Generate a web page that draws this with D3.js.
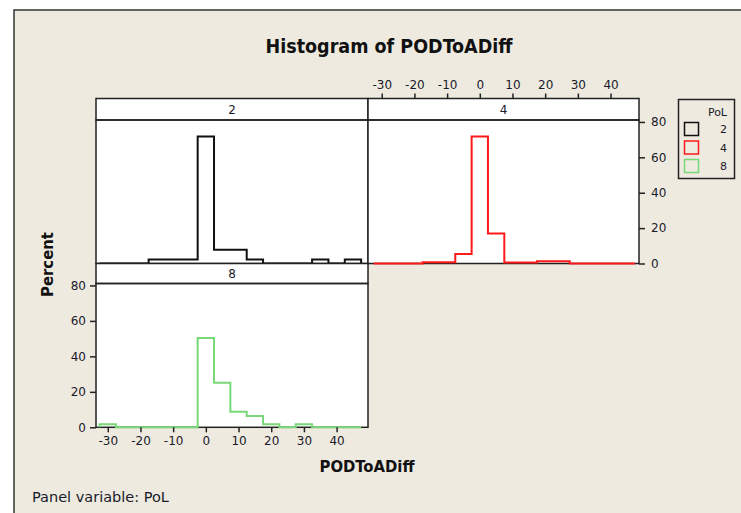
<!DOCTYPE html>
<html>
<head>
<meta charset="utf-8">
<script src="https://cdn.jsdelivr.net/npm/d3@7/dist/d3.min.js"></script>
<style>
  html, body { margin: 0; padding: 0; background: #ffffff; }
  svg { display: block; }
</style>
</head>
<body>
<script>
// ---- data ----
const binCenters = [-30, -25, -20, -15, -10, -5, 0, 5, 10, 15, 20, 25, 30, 35, 40, 45];
const binWidth = 5;
const pol2 = [0, 0, 0, 2.2, 2.2, 2.2, 71.8, 7.8, 7.8, 2.2, 0, 0, 0, 2.2, 0, 2.2];
const pol4 = [0, 0, 0, 0.7, 0.7, 5.3, 71.8, 17.0, 0.6, 0.6, 1.3, 1.3, 0, 0, 0, 0];
const pol8 = [1.7, 0, 0, 0, 0, 0, 50.4, 25.1, 8.8, 6.4, 1.7, 0, 1.7, 0, 0, 0];
const panelLabels = ["2", "4", "8"];
const seriesColors = ["#111111", "#ff1a1a", "#78d878"];
const xTicks = [-30, -20, -10, 0, 10, 20, 30, 40];
const yTicks = [0, 20, 40, 60, 80];
const titleText = "Histogram of PODToADiff";
const xLabel = "PODToADiff";
const yLabel = "Percent";
const legendTitle = "PoL";
const footText = "Panel variable: PoL";

const W = 741, H = 513;
const BG = "#eeeae0";
const FONT = "'DejaVu Sans', Verdana, sans-serif";
const FONTC = "'DejaVu Sans Condensed', 'DejaVu Sans', sans-serif";

const svg = d3.select("body").append("svg").attr("width", W).attr("height", H);
svg.append("rect").attr("width", W).attr("height", H).attr("fill", "#ffffff");
// outer frame
svg.append("rect").attr("x", 14).attr("y", 10).attr("width", W + 10).attr("height", H + 10)
  .attr("fill", BG).attr("stroke", "#333").attr("stroke-width", 1.5);

// layout of panels
const cols = [
  { x0: 96, x1: 368, domain: [-33.6, 49.6] },
  { x0: 368, x1: 639, domain: [-34.2, 48.7] }
];
const rows = [
  { stripTop: 98.5, stripBottom: 120, base: 263.5 },
  { stripTop: 263.5, stripBottom: 283.5, base: 427.3 }
];
const yMax = 81.1;
const panels = [
  { label: panelLabels[0], data: pol2, color: seriesColors[0], col: 0, row: 0 },
  { label: panelLabels[1], data: pol4, color: seriesColors[1], col: 1, row: 0 },
  { label: panelLabels[2], data: pol8, color: seriesColors[2], col: 0, row: 1 }
];

const xScales = cols.map(c => d3.scaleLinear().domain(c.domain).range([c.x0, c.x1]));
const yScales = rows.map(r => d3.scaleLinear().domain([0, yMax]).range([r.base, r.stripBottom]));

panels.forEach(p => {
  const c = cols[p.col], r = rows[p.row];
  const x = xScales[p.col], y = yScales[p.row];
  const g = svg.append("g");
  g.append("rect").attr("x", c.x0).attr("y", r.stripBottom)
    .attr("width", c.x1 - c.x0).attr("height", r.base - r.stripBottom)
    .attr("fill", "#ffffff");
  g.append("rect").attr("x", c.x0).attr("y", r.stripTop)
    .attr("width", c.x1 - c.x0).attr("height", r.stripBottom - r.stripTop)
    .attr("fill", "#ffffff").attr("stroke", "#222").attr("stroke-width", 1.5);
  g.append("text").attr("x", (c.x0 + c.x1) / 2).attr("y", (r.stripTop + r.stripBottom) / 2 + 4.5)
    .attr("text-anchor", "middle").attr("font-family", FONT).attr("font-size", 12)
    .attr("fill", "#1a1a2a").text(p.label);
  g.append("rect").attr("x", c.x0).attr("y", r.stripBottom)
    .attr("width", c.x1 - c.x0).attr("height", r.base - r.stripBottom)
    .attr("fill", "none").attr("stroke", "#222").attr("stroke-width", 1.5);
  // histogram outline (step path over all bins)
  const pts = [[binCenters[0] - binWidth / 2, 0]];
  binCenters.forEach((bc, i) => {
    pts.push([bc - binWidth / 2, p.data[i]]);
    pts.push([bc + binWidth / 2, p.data[i]]);
  });
  pts.push([binCenters[binCenters.length - 1] + binWidth / 2, 0]);
  const line = d3.line().x(d => x(d[0])).y(d => y(d[1]));
  g.append("path").attr("d", line(pts)).attr("fill", "none")
    .attr("stroke", p.color).attr("stroke-width", 2).attr("stroke-linejoin", "miter");
});

// axes
const styleAxis = sel => {
  sel.select(".domain").remove();
  sel.selectAll(".tick line").attr("stroke", "#222").attr("stroke-width", 1.5);
  sel.selectAll("text").attr("font-family", FONT).attr("font-size", 12).attr("fill", "#1a1a2a");
};
const fmt = d => String(d);
svg.append("g").attr("transform", `translate(0,${rows[0].stripTop})`)
  .call(d3.axisTop(xScales[1]).tickValues(xTicks).tickFormat(fmt).tickSize(5).tickPadding(5)).call(styleAxis);
svg.append("g").attr("transform", `translate(0,${rows[1].base})`)
  .call(d3.axisBottom(xScales[0]).tickValues(xTicks).tickFormat(fmt).tickSize(5).tickPadding(4)).call(styleAxis);
svg.append("g").attr("transform", `translate(${cols[0].x0},0)`)
  .call(d3.axisLeft(yScales[1]).tickValues(yTicks).tickFormat(fmt).tickSize(6).tickPadding(4)).call(styleAxis);
svg.append("g").attr("transform", `translate(${cols[1].x1},0)`)
  .call(d3.axisRight(yScales[0]).tickValues(yTicks).tickFormat(fmt).tickSize(6).tickPadding(6)).call(styleAxis);

// titles
svg.append("text").attr("x", 389).attr("y", 53).attr("text-anchor", "middle")
  .attr("font-family", FONTC).attr("font-weight", "bold").attr("font-size", 19.5)
  .attr("fill", "#111").text(titleText);
svg.append("text").attr("x", 367).attr("y", 472).attr("text-anchor", "middle")
  .attr("font-family", FONTC).attr("font-weight", "bold").attr("font-size", 16.5)
  .attr("fill", "#111").text(xLabel);
svg.append("text").attr("transform", "translate(53,264.5) rotate(-90)").attr("text-anchor", "middle")
  .attr("font-family", FONTC).attr("font-weight", "bold").attr("font-size", 16.5)
  .attr("fill", "#111").text(yLabel);
svg.append("text").attr("x", 32).attr("y", 502)
  .attr("font-family", FONT).attr("font-size", 14.5)
  .attr("fill", "#1a1a2a").text(footText);

// legend
const lg = svg.append("g");
lg.append("rect").attr("x", 678.5).attr("y", 99.5).attr("width", 56).attr("height", 79)
  .attr("fill", BG).attr("stroke", "#222").attr("stroke-width", 1.5);
lg.append("text").attr("x", 727).attr("y", 116).attr("text-anchor", "end")
  .attr("font-family", FONT).attr("font-size", 11).attr("fill", "#1a1a2a").text(legendTitle);
panelLabels.forEach((lab, i) => {
  const yy = 122.5 + i * 18.5;
  lg.append("rect").attr("x", 684.5).attr("y", yy).attr("width", 14).attr("height", 13)
    .attr("fill", "none").attr("stroke", seriesColors[i]).attr("stroke-width", 1.5);
  lg.append("text").attr("x", 727).attr("y", yy + 10.5).attr("text-anchor", "end")
    .attr("font-family", FONT).attr("font-size", 11).attr("fill", "#1a1a2a").text(lab);
});
</script>
</body>
</html>
